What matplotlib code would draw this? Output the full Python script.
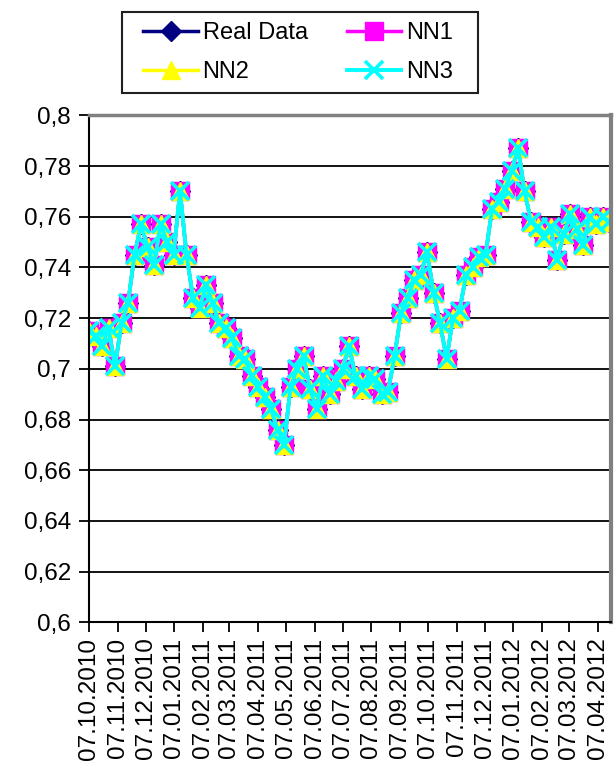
import matplotlib
matplotlib.use("Agg")
import matplotlib.pyplot as plt
import matplotlib.dates as mdates
from matplotlib.patches import Rectangle
from matplotlib.ticker import FuncFormatter
import pandas as pd

plt.rcParams['font.family'] = ['Liberation Sans', 'DejaVu Sans']

start_date = '2010-10-07'

# weekly readings of the exchange rate off the chart
real_data = [0.715, 0.713, 0.709, 0.716, 0.701, 0.718, 0.726, 0.745, 0.757, 0.748,
             0.741, 0.757, 0.750, 0.745, 0.770, 0.745, 0.728, 0.724, 0.733, 0.726,
             0.718, 0.716, 0.712, 0.705, 0.704, 0.697, 0.693, 0.689, 0.684, 0.676,
             0.670, 0.693, 0.700, 0.705, 0.692, 0.684, 0.697, 0.690, 0.695, 0.700,
             0.709, 0.697, 0.692, 0.697, 0.696, 0.690, 0.691, 0.705, 0.722, 0.728,
             0.735, 0.737, 0.746, 0.730, 0.718, 0.704, 0.720, 0.723, 0.737, 0.740,
             0.744, 0.745, 0.763, 0.766, 0.771, 0.778, 0.787, 0.770, 0.758, 0.756,
             0.752, 0.756, 0.743, 0.753, 0.761, 0.755, 0.749, 0.760, 0.757, 0.760,
             0.758]
# the three network forecasts lie on top of the real data
nn1 = list(real_data)
nn2 = list(real_data)
nn3 = list(real_data)

y_ticks = [0.6, 0.62, 0.64, 0.66, 0.68, 0.7, 0.72, 0.74, 0.76, 0.78, 0.8]

dates = pd.date_range(start_date, periods=len(real_data), freq='7D')

fig = plt.figure(figsize=(6.14, 7.74), dpi=100)
ax = fig.add_axes([0.145, 0.196, 0.85, 0.655])

h_real, = ax.plot(dates, real_data, color='#000080', lw=2.5, marker='D', ms=10,
                  label='Real Data')
h_nn1, = ax.plot(dates, nn1, color='#ff00ff', lw=2.5, marker='s', ms=13.5,
                 label='NN1')
h_nn2, = ax.plot(dates, nn2, color='#ffff00', lw=2.5, marker='^', ms=13.5,
                 label='NN2')
h_nn3, = ax.plot(dates, nn3, color='#00ffff', lw=2.8, marker='x', ms=12.5, mew=2.6,
                 label='NN3')

ax.set_ylim(0.6, 0.8)
ax.set_yticks(y_ticks)
ax.yaxis.set_major_formatter(FuncFormatter(lambda v, p: ('%g' % round(v, 2)).replace('.', ',')))
ax.set_xlim(pd.Timestamp('2010-10-07'), pd.Timestamp('2012-04-21'))
ax.xaxis.set_major_locator(mdates.MonthLocator(bymonthday=7))
ax.xaxis.set_major_formatter(mdates.DateFormatter('%d.%m.%Y'))
plt.setp(ax.get_xticklabels(), rotation=90)

ax.tick_params(axis='both', labelsize=17.5, direction='out', length=7, width=1.3,
               color='black')
ax.tick_params(axis='y', pad=6)
ax.tick_params(axis='x', pad=4)
ax.grid(axis='y', color='black', lw=1.3)
ax.set_axisbelow(True)

ax.spines['left'].set_linewidth(1.5)
ax.spines['bottom'].set_linewidth(1.5)
ax.spines['top'].set_color('#808080')
ax.spines['top'].set_linewidth(2.5)
ax.spines['right'].set_color('#808080')
ax.spines['right'].set_linewidth(3)

# legend box drawn by hand, Excel pads it more at the sides than at top/bottom
box_x0, box_y0, box_w, box_h = 122 / 614, 1 - 93 / 774, 356 / 614, 81 / 774
fig.patches.append(Rectangle((box_x0, box_y0), box_w, box_h, transform=fig.transFigure,
                             fill=False, edgecolor='#202020', lw=1.5))
leg = fig.legend([h_real, h_nn2, h_nn1, h_nn3], ['Real Data', 'NN2', 'NN1', 'NN3'],
                 ncol=2, loc='center', bbox_to_anchor=(298 / 614, 1 - 52.5 / 774),
                 fontsize=17, frameon=False, handlelength=2.3,
                 handletextpad=0.2, columnspacing=1.65, labelspacing=0.72,
                 borderpad=0, borderaxespad=0)

fig.savefig('out.png', dpi=100)
